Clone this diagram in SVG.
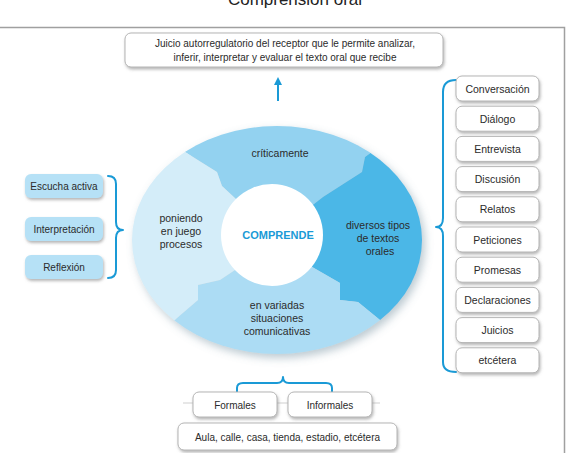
<svg xmlns="http://www.w3.org/2000/svg" width="569" height="453" viewBox="0 0 569 453">
<defs>
<style>
text{font-family:"Liberation Sans",Arial,sans-serif;fill:#2b2b2b;text-anchor:middle}
.t10{font-size:10px}
.t105{font-size:10.5px}
.wbox{fill:#fff;stroke:#b5b5b5;stroke-width:1}
.bbox{fill:#b6e1f6;stroke:none}
.brace{fill:none;stroke:#1a9ad6;stroke-width:2;stroke-linecap:round;stroke-linejoin:round}
</style>
<filter id="sh" x="-20%" y="-30%" width="140%" height="170%">
<feDropShadow dx="1" dy="2" stdDeviation="1.6" flood-color="#7a7a7a" flood-opacity="0.55"/>
</filter>
<filter id="ringsh" x="-10%" y="-10%" width="125%" height="125%">
<feDropShadow dx="3" dy="4" stdDeviation="4" flood-color="#6a8a9a" flood-opacity="0.45"/>
</filter>
<clipPath id="ringclip"><ellipse cx="277" cy="240" rx="145" ry="114"/></clipPath>
<marker id="ah" viewBox="0 0 10 10" refX="5" refY="5" markerWidth="4" markerHeight="4" orient="auto">
<path d="M0,0 L10,5 L0,10 z" fill="#1a9ad6"/>
</marker>
</defs>
<rect x="0" y="0" width="569" height="453" fill="#fff"/>
<text x="295" y="5" style="font-size:17px;fill:#222">Comprensión oral</text>
<path d="M0,27.5 H564.5 V453" fill="none" stroke="#a0a0a0" stroke-width="1.5"/>

<g id="connectors">
<line x1="278" y1="101" x2="278" y2="81" stroke="#1a9ad6" stroke-width="2" marker-end="url(#ah)"/>
<path class="brace" d="M108,176 Q116,176 116,184 L116,222 Q116,230 123,230 Q116,230 116,238 L116,270 Q116,278 108,278"/>
<path class="brace" d="M456,80 Q443,80 443,92 L443,218 Q443,227 436,227 Q443,227 443,236 L443,362 Q443,372 456,372"/>
<path class="brace" d="M237,392 L237,388 Q237,383 243,383 L277,383 Q283,383 283,377 Q283,383 289,383 L326,383 Q332,383 332,388 L332,392"/>
<line x1="183" y1="403" x2="380" y2="403" stroke="#cfcfcf" stroke-width="1"/>
</g>

<g id="top-box">
<rect class="wbox" x="125" y="33" width="318" height="34" rx="6" filter="url(#sh)"/>
<text class="t10" x="285" y="47">Juicio autorregulatorio del receptor que le permite analizar,</text>
<text class="t10" x="285" y="61">inferir, interpretar y evaluar el texto oral que recibe</text>
</g>

<g id="ring">
<g filter="url(#ringsh)">
<g clip-path="url(#ringclip)">
<polygon id="seg-top" fill="#93d2f0" points="275,238 250,212 222,186 217,172 177,147 110,90 110,60 450,60 440,90 377,148 365,157 362,172 323,197 300,215"/>
<polygon id="seg-right" fill="#4cb7e7" points="275,238 300,215 323,197 362,172 365,157 377,148 440,90 480,90 480,400 440,380 380,320 358,302 340,300 340,283 300,260"/>
<polygon id="seg-bottom" fill="#acdcf4" points="275,238 300,260 340,283 340,300 358,302 380,320 440,380 440,420 110,420 120,370 177,318 198,300 198,285 220,280 250,260"/>
<polygon id="seg-left" fill="#d4edf9" points="275,238 250,260 220,280 198,285 198,300 177,318 120,370 80,370 80,90 110,90 177,147 217,172 222,186 250,212"/>
</g>
</g>
<circle cx="272" cy="235" r="51" fill="#fff"/>
<text x="278" y="239" style="font-size:11px;font-weight:bold;fill:#1a9ad6">COMPRENDE</text>
<text class="t105" x="280" y="157">críticamente</text>
<text class="t105" x="181" y="222">poniendo</text>
<text class="t105" x="181" y="235">en juego</text>
<text class="t105" x="181" y="248">procesos</text>
<text class="t105" x="378" y="229">diversos tipos</text>
<text class="t105" x="378" y="242">de textos</text>
<text class="t105" x="380" y="255">orales</text>
<text class="t105" x="277" y="309">en variadas</text>
<text class="t105" x="277" y="322">situaciones</text>
<text class="t105" x="277" y="335">comunicativas</text>
</g>

<g id="escucha-activa"><rect class="bbox" x="25" y="174" width="78" height="24" rx="6" filter="url(#sh)"/><text class="t10" x="64" y="190">Escucha activa</text></g>
<g id="interpretacion"><rect class="bbox" x="25" y="217" width="78" height="24" rx="6" filter="url(#sh)"/><text class="t10" x="64" y="233">Interpretación</text></g>
<g id="reflexion"><rect class="bbox" x="25" y="255" width="78" height="24" rx="6" filter="url(#sh)"/><text class="t10" x="64" y="271">Reflexión</text></g>

<g id="conversacion"><rect class="wbox" x="456" y="76" width="83" height="25" rx="6" filter="url(#sh)"/><text class="t105" x="497.5" y="92.5">Conversación</text></g>
<g id="dialogo"><rect class="wbox" x="456" y="106.2" width="83" height="25" rx="6" filter="url(#sh)"/><text class="t105" x="497.5" y="122.7">Diálogo</text></g>
<g id="entrevista"><rect class="wbox" x="456" y="136.4" width="83" height="25" rx="6" filter="url(#sh)"/><text class="t105" x="497.5" y="152.9">Entrevista</text></g>
<g id="discusion"><rect class="wbox" x="456" y="166.6" width="83" height="25" rx="6" filter="url(#sh)"/><text class="t105" x="497.5" y="183.1">Discusión</text></g>
<g id="relatos"><rect class="wbox" x="456" y="196.8" width="83" height="25" rx="6" filter="url(#sh)"/><text class="t105" x="497.5" y="213.3">Relatos</text></g>
<g id="peticiones"><rect class="wbox" x="456" y="227" width="83" height="25" rx="6" filter="url(#sh)"/><text class="t105" x="497.5" y="243.5">Peticiones</text></g>
<g id="promesas"><rect class="wbox" x="456" y="257.2" width="83" height="25" rx="6" filter="url(#sh)"/><text class="t105" x="497.5" y="273.7">Promesas</text></g>
<g id="declaraciones"><rect class="wbox" x="456" y="287.4" width="83" height="25" rx="6" filter="url(#sh)"/><text class="t105" x="497.5" y="303.9">Declaraciones</text></g>
<g id="juicios"><rect class="wbox" x="456" y="317.6" width="83" height="25" rx="6" filter="url(#sh)"/><text class="t105" x="497.5" y="334.1">Juicios</text></g>
<g id="etcetera"><rect class="wbox" x="456" y="347.8" width="83" height="25" rx="6" filter="url(#sh)"/><text class="t105" x="497.5" y="364.3">etcétera</text></g>

<g id="formales"><rect class="wbox" x="193" y="392" width="84" height="25" rx="6" filter="url(#sh)"/><text class="t10" x="235" y="408.5">Formales</text></g>
<g id="informales"><rect class="wbox" x="288" y="392" width="84" height="25" rx="6" filter="url(#sh)"/><text class="t10" x="330" y="408.5">Informales</text></g>
<g id="lugares"><rect class="wbox" x="178" y="423" width="219" height="27" rx="6" filter="url(#sh)"/><text class="t10" x="287.5" y="440.5">Aula, calle, casa, tienda, estadio, etcétera</text></g>
</svg>
